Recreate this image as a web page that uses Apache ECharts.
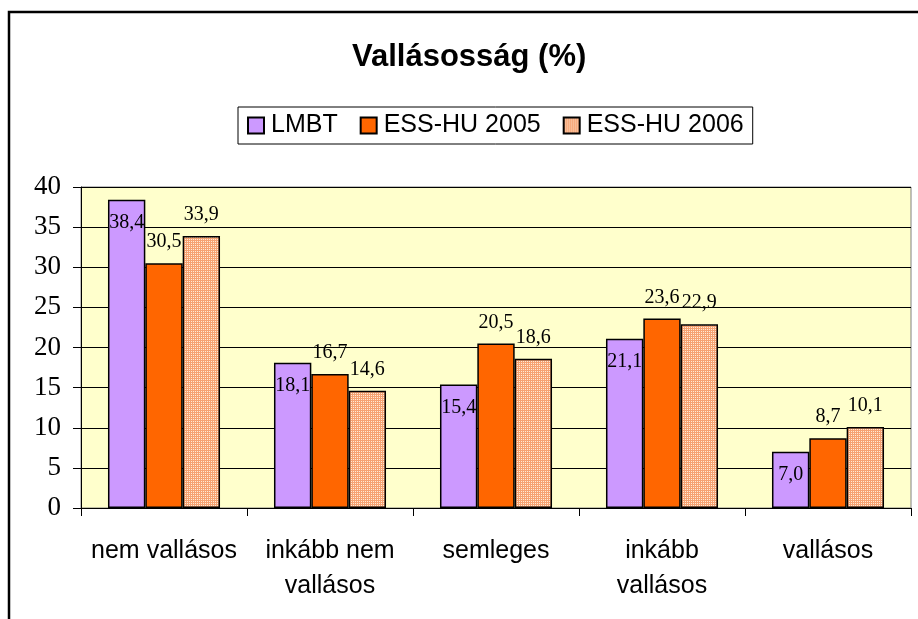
<!DOCTYPE html>
<html>
<head>
<meta charset="utf-8">
<script src="https://cdn.jsdelivr.net/npm/echarts@6/dist/echarts.min.js"></script>
<style>
html,body{margin:0;padding:0;background:#fff;}
#chart{width:918px;height:619px;}
</style>
</head>
<body>
<div id="chart"></div>
<script>
var categories = ['nem vallásos', 'inkább nem\nvallásos', 'semleges', 'inkább\nvallásos', 'vallásos'];
var seriesNames = ['LMBT', 'ESS-HU 2005', 'ESS-HU 2006'];
var lmbt = [38.4, 18.1, 15.4, 21.1, 7.0];
var ess2005 = [30.5, 16.7, 20.5, 23.6, 8.7];
var ess2006 = [33.9, 14.6, 18.6, 22.9, 10.1];
var yTicks = [0, 5, 10, 15, 20, 25, 30, 35, 40];

var pat = document.createElement('canvas');
pat.width = 2; pat.height = 2;
var pc = pat.getContext('2d');
pc.fillStyle = '#F6A272'; pc.fillRect(0, 0, 2, 2);
pc.fillStyle = '#FFEBD6'; pc.fillRect(1, 1, 1, 1);

function fmt(p) { return p.value.toFixed(1).replace('.', ','); }
var labelFont = { fontFamily: '"Liberation Serif", "Times New Roman", serif', fontSize: 20, color: '#000' };

var chart = echarts.init(document.getElementById('chart'), null, { renderer: 'canvas' });
chart.setOption({
  animation: false,
  backgroundColor: '#fff',
  title: {
    text: 'Vallásosság (%)',
    left: 347,
    top: 37,
    textStyle: { fontFamily: '"Liberation Sans", Arial, sans-serif', fontWeight: 'bold', fontSize: 31, color: '#000' }
  },
  graphic: [{
    type: 'rect', silent: true, z: 100,
    shape: { x: 9, y: 12, width: 1000, height: 1000 },
    style: { fill: 'none', stroke: '#000', lineWidth: 2.5 }
  }],
  legend: {
    data: seriesNames,
    icon: 'rect',
    left: 238, top: 107,
    padding: [6, 9, 6, 9],
    itemGap: 22,
    itemWidth: 16, itemHeight: 16,
    borderColor: '#000', borderWidth: 1,
    textStyle: { fontFamily: '"Liberation Sans", Arial, sans-serif', fontSize: 25, color: '#000', padding: [0, 0, 0, 2] }
  },
  grid: {
    left: 81, right: 7, top: 187, bottom: 111,
    show: true, backgroundColor: '#FFFFCC', borderColor: '#808080', borderWidth: 1
  },
  xAxis: {
    type: 'category',
    data: categories,
    axisLine: { lineStyle: { color: '#000', width: 1 } },
    axisTick: { show: true, length: 8, lineStyle: { color: '#000' } },
    axisLabel: { fontFamily: '"Liberation Sans", Arial, sans-serif', fontSize: 25, color: '#000', lineHeight: 35, margin: 26, interval: 0 }
  },
  yAxis: {
    type: 'value',
    min: yTicks[0], max: yTicks[yTicks.length - 1], interval: 5,
    axisLine: { show: true, lineStyle: { color: '#000', width: 1 } },
    axisTick: { show: true, length: 8, lineStyle: { color: '#000' } },
    axisLabel: { fontFamily: '"Liberation Serif", "Times New Roman", serif', fontSize: 27, color: '#000', margin: 20 },
    splitLine: { show: true, lineStyle: { color: '#000', width: 1 } }
  },
  series: [
    {
      name: seriesNames[0], type: 'bar', data: lmbt, barWidth: '22.5%', barGap: '0%',
      itemStyle: { color: '#CC99FF', borderColor: '#000', borderWidth: 1.5 },
      label: Object.assign({ show: true, position: 'insideTop', distance: 13, formatter: fmt }, labelFont)
    },
    {
      name: seriesNames[1], type: 'bar', data: ess2005, barWidth: '22.5%', barGap: '0%',
      itemStyle: { color: '#FF6600', borderColor: '#000', borderWidth: 1.5 },
      label: Object.assign({ show: true, position: 'top', distance: 11, formatter: fmt }, labelFont)
    },
    {
      name: seriesNames[2], type: 'bar', data: ess2006, barWidth: '22.5%', barGap: '0%',
      itemStyle: { color: { image: pat, repeat: 'repeat' }, borderColor: '#000', borderWidth: 1.5 },
      label: Object.assign({ show: true, position: 'top', distance: 11, formatter: fmt }, labelFont)
    }
  ]
});
</script>
</body>
</html>
